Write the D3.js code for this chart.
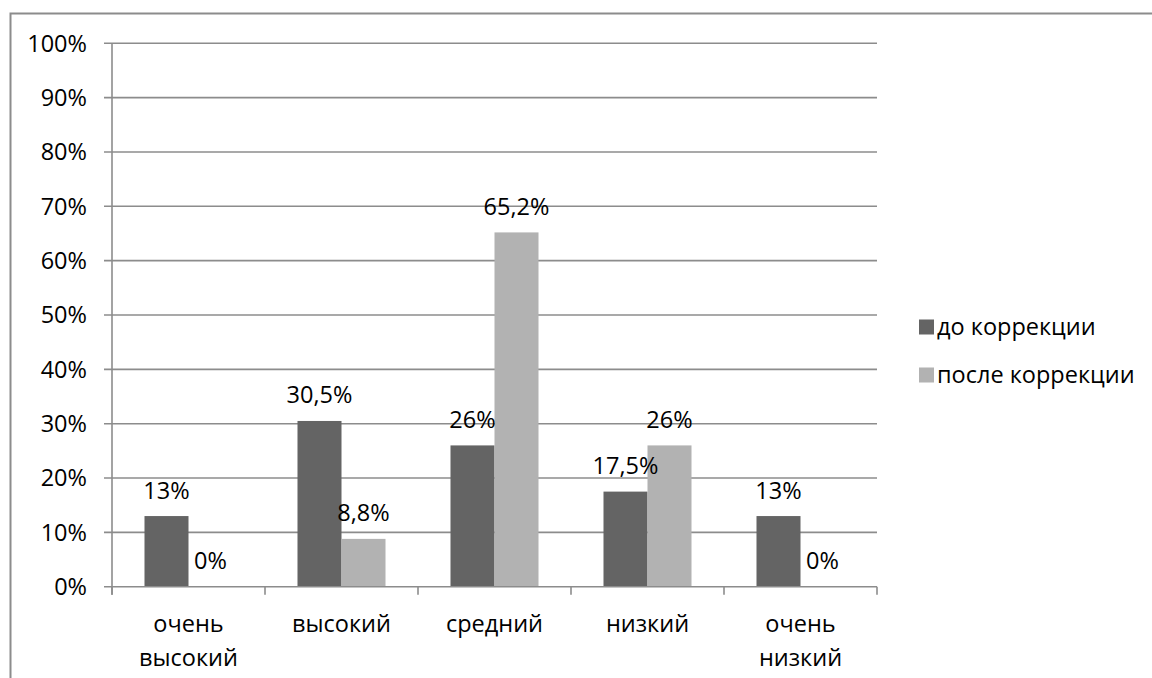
<!DOCTYPE html>
<html>
<head>
<meta charset="utf-8">
<script src="https://cdn.jsdelivr.net/npm/d3@7"></script>
<style>
  html, body { margin: 0; padding: 0; background: #fff; }
  svg { display: block; }
  text { font-family: "Open Sans", "DejaVu Sans", sans-serif; fill: #000; }
</style>
</head>
<body>
<svg id="chart" width="1152" height="678"></svg>
<script>
// Categories (each label split into display lines)
const categories = ["очень высокий", "высокий", "средний", "низкий", "очень низкий"];
const categoryLines = [["очень", "высокий"], ["высокий"], ["средний"], ["низкий"], ["очень", "низкий"]];

// Series
const seriesNames = ["до коррекции", "после коррекции"];
const beforeValues = [13, 30.5, 26, 17.5, 13];
const afterValues = [0, 8.8, 65.2, 26, 0];
const beforeLabels = ["13%", "30,5%", "26%", "17,5%", "13%"];
const afterLabels = ["0%", "8,8%", "65,2%", "26%", "0%"];

// Axis ticks
const yTicks = [0, 10, 20, 30, 40, 50, 60, 70, 80, 90, 100];
const yTickLabels = ["0%", "10%", "20%", "30%", "40%", "50%", "60%", "70%", "80%", "90%", "100%"];

const seriesColors = ["#646464", "#b2b2b2"];
const gridColor = "#8c8c8c";
const fontSize = 23.5;

const svg = d3.select("#chart");

const plot = { left: 112, right: 877, top: 43.3, bottom: 586.7 };

const y = d3.scaleLinear().domain([0, 100]).range([plot.bottom, plot.top]);
const x0 = d3.scaleBand().domain(categories).range([plot.left, plot.right]).padding(0);
const bw = x0.bandwidth();
const x1 = d3.scaleBand().domain(seriesNames).range([bw * 0.2124, bw * 0.7876]).padding(0);

// Outer frame (left and top edges)
svg.append("path")
  .attr("d", "M10.5,678 L10.5,13.5 L1152,13.5")
  .attr("fill", "none")
  .attr("stroke", "#8c8c8c")
  .attr("stroke-width", 2);

// Horizontal gridlines with left tick stubs
svg.append("g").selectAll("line")
  .data(yTicks.filter(t => t > 0))
  .join("line")
  .attr("x1", plot.left - 8)
  .attr("x2", plot.right)
  .attr("y1", d => y(d))
  .attr("y2", d => y(d))
  .attr("stroke", gridColor)
  .attr("stroke-width", 1.6);

// Y tick labels
svg.append("g").selectAll("text")
  .data(yTicks)
  .join("text")
  .attr("x", 87)
  .attr("y", d => y(d))
  .attr("dy", "0.36em")
  .attr("text-anchor", "end")
  .attr("font-size", fontSize)
  .text((d, i) => yTickLabels[i]);

// Bars
const seriesData = [beforeValues, afterValues];
const seriesLabelText = [beforeLabels, afterLabels];
seriesNames.forEach((name, si) => {
  svg.append("g").selectAll("rect")
    .data(categories)
    .join("rect")
    .attr("x", c => x0(c) + x1(name))
    .attr("width", x1.bandwidth())
    .attr("y", (c, i) => y(seriesData[si][i]))
    .attr("height", (c, i) => y(0) - y(seriesData[si][i]))
    .attr("fill", seriesColors[si]);
});

// Value labels above each bar
seriesNames.forEach((name, si) => {
  svg.append("g").selectAll("text")
    .data(categories)
    .join("text")
    .attr("x", c => x0(c) + x1(name) + x1.bandwidth() / 2)
    .attr("y", (c, i) => y(seriesData[si][i]) - 26)
    .attr("dy", "0.36em")
    .attr("text-anchor", "middle")
    .attr("font-size", fontSize)
    .text((c, i) => seriesLabelText[si][i]);
});

// Axes lines
svg.append("line")
  .attr("x1", plot.left).attr("x2", plot.left)
  .attr("y1", plot.top).attr("y2", plot.bottom + 8)
  .attr("stroke", gridColor).attr("stroke-width", 1.6);
svg.append("line")
  .attr("x1", plot.left - 8).attr("x2", plot.right)
  .attr("y1", plot.bottom).attr("y2", plot.bottom)
  .attr("stroke", gridColor).attr("stroke-width", 1.6);

// Category tick marks on the x axis
const boundaries = categories.map(c => x0(c)).concat([plot.right]);
svg.append("g").selectAll("line")
  .data(boundaries)
  .join("line")
  .attr("x1", d => d).attr("x2", d => d)
  .attr("y1", plot.bottom).attr("y2", plot.bottom + 8)
  .attr("stroke", gridColor).attr("stroke-width", 1.6);

// Category labels
const catG = svg.append("g");
categories.forEach((c, i) => {
  const t = catG.append("text")
    .attr("x", x0(c) + bw / 2)
    .attr("y", 624)
    .attr("text-anchor", "middle")
    .attr("font-size", fontSize);
  categoryLines[i].forEach((line, li) => {
    t.append("tspan")
      .attr("x", x0(c) + bw / 2)
      .attr("dy", li === 0 ? "0.36em" : 34)
      .text(line);
  });
});

// Legend
const legend = svg.append("g");
seriesNames.forEach((name, i) => {
  const cy = 327 + i * 48;
  legend.append("rect")
    .attr("x", 919).attr("y", cy - 7.5)
    .attr("width", 15).attr("height", 15)
    .attr("fill", seriesColors[i]);
  legend.append("text")
    .attr("x", 937).attr("y", cy)
    .attr("dy", "0.36em")
    .attr("font-size", fontSize)
    .text(name);
});
</script>
</body>
</html>
